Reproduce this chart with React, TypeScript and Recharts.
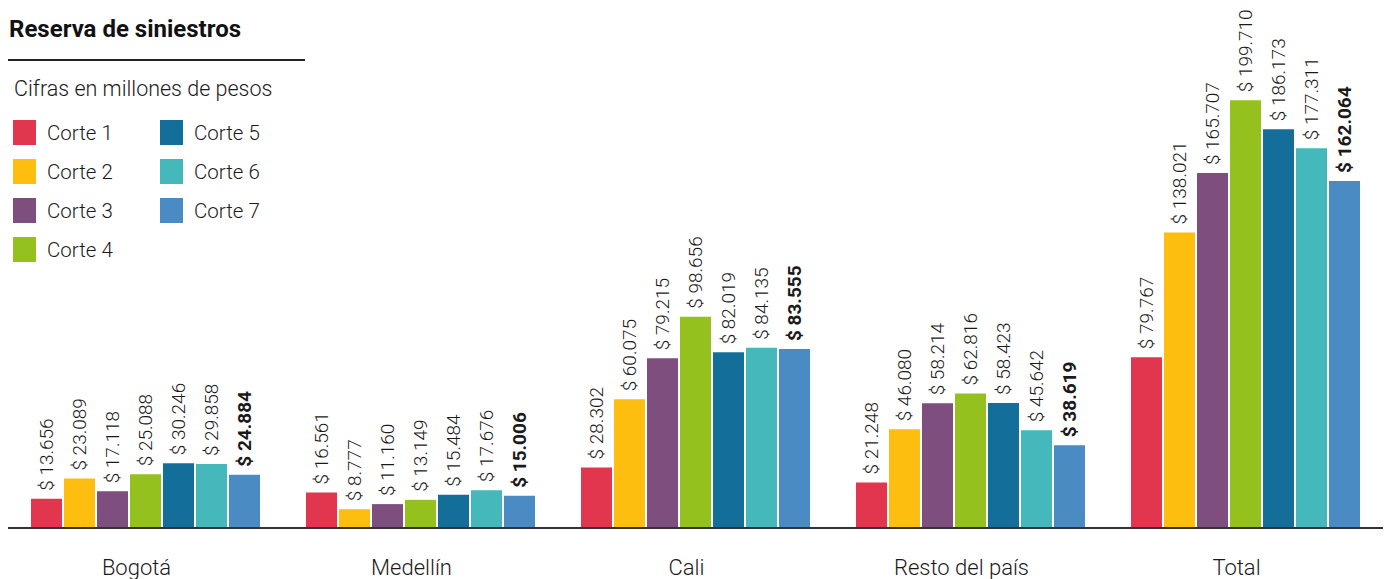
import { BarChart, Bar, XAxis, YAxis, LabelList } from 'recharts';

const categories = ['Bogotá', 'Medellín', 'Cali', 'Resto del país', 'Total'];
const seriesNames = ['Corte 1', 'Corte 2', 'Corte 3', 'Corte 4', 'Corte 5', 'Corte 6', 'Corte 7'];
const colors = ['#E2364F', '#FDBE10', '#7E4E7E', '#95C11F', '#136F9A', '#45B8BC', '#4A8BC4'];

// valores en millones de pesos, una lista por corte (Bogotá, Medellín, Cali, Resto, Total)
const corte1 = [13656, 16561, 28302, 21248, 79767];
const corte2 = [23089, 8777, 60075, 46080, 138021];
const corte3 = [17118, 11160, 79215, 58214, 165707];
const corte4 = [25088, 13149, 98656, 62816, 199710];
const corte5 = [30246, 15484, 82019, 58423, 186173];
const corte6 = [29858, 17676, 84135, 45642, 177311];
const corte7 = [24884, 15006, 83555, 38619, 162064];

const series = [corte1, corte2, corte3, corte4, corte5, corte6, corte7];

const data = categories.map((name, i) => {
    const row: any = { name };
    series.forEach((s, k) => {
        row[`c${k + 1}`] = s[i];
    });
    return row;
});

const FONT = 'Roboto, "Noto Sans", sans-serif';

const fmt = (v: number) => '$ ' + v.toString().replace(/\B(?=(\d{3})+(?!\d))/g, '.');

const makeLabel = (bold: boolean) => (props: any) => {
    const { x, y, width, value } = props;
    const cx = x + width / 2;
    const cy = y - 8;
    return (
        <text
            x={cx}
            y={cy}
            transform={`rotate(-90, ${cx}, ${cy})`}
            textAnchor="start"
            dominantBaseline="central"
            fontFamily={FONT}
            fontSize={19}
            fontWeight={bold ? 700 : 300}
            fill="#1a1a1a"
        >
            {fmt(value)}
        </text>
    );
};

export default function App() {
    return (
        <div style={{ position: 'absolute', left: 0, top: 0, width: 1387, height: 579, background: '#fff', fontFamily: FONT }}>
            <BarChart
                width={1387}
                height={579}
                data={data}
                margin={{ top: 14, right: 4, left: 8, bottom: 6 }}
                barCategoryGap={23}
                barGap={2}
            >
                <XAxis
                    dataKey="name"
                    axisLine={{ stroke: '#333', strokeWidth: 2 }}
                    tickLine={false}
                    tickSize={0}
                    tickMargin={31}
                    height={45}
                    tick={{ fontSize: 22, fill: '#1a1a1a', fontFamily: FONT, fontWeight: 300, dx: -9 }}
                />
                <YAxis hide domain={[0, 240000]} />
                {seriesNames.map((s, k) => (
                    <Bar key={s} dataKey={`c${k + 1}`} name={s} fill={colors[k]} isAnimationActive={false}>
                        <LabelList dataKey={`c${k + 1}`} content={makeLabel(k === 6)} />
                    </Bar>
                ))}
            </BarChart>

            <div style={{ position: 'absolute', left: 9, top: 15, fontSize: 24, fontWeight: 700, color: '#111' }}>
                Reserva de siniestros
            </div>
            <div style={{ position: 'absolute', left: 8, top: 59, width: 297, height: 2, background: '#222' }} />
            <div style={{ position: 'absolute', left: 14, top: 76, fontSize: 21.5, fontWeight: 300, color: '#1a1a1a' }}>
                Cifras en millones de pesos
            </div>
            {seriesNames.map((s, k) => {
                const col = k < 4 ? 0 : 1;
                const row = k < 4 ? k : k - 4;
                return (
                    <div
                        key={s}
                        style={{ position: 'absolute', left: col === 0 ? 13 : 160, top: 120 + row * 39, display: 'flex', alignItems: 'center' }}
                    >
                        <div style={{ width: 23, height: 25, background: colors[k] }} />
                        <span style={{ marginLeft: 11, fontSize: 20.5, fontWeight: 300, color: '#1a1a1a' }}>{s}</span>
                    </div>
                );
            })}
        </div>
    );
}
